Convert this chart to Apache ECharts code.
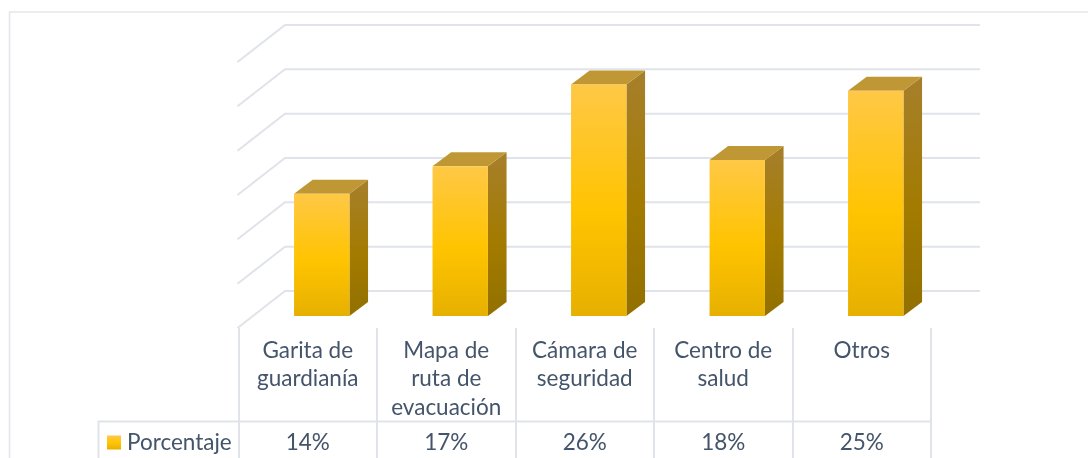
<!DOCTYPE html>
<html>
<head>
<meta charset="utf-8">
<style>html,body{margin:0;padding:0;background:#fff}#c{width:1088px;height:458px}</style>
<script src="https://cdn.jsdelivr.net/npm/echarts@6/dist/echarts.min.js"></script>
</head>
<body>
<div id="c"></div>
<script>
const categories = ["Garita de\nguardianía", "Mapa de\nruta de\nevacuación", "Cámara de\nseguridad", "Centro de\nsalud", "Otros"];
const seriesName = "Porcentaje";
const values = [13.8, 16.9, 26.1, 17.6, 25.4];
const yTicks = [0, 5, 10, 15, 20, 25, 30];

const LINE = "#e0e3e9", TEXT = "#44546a", FONT = "Lato", FS = 22.5;
const grad = (a, b, c) => new echarts.graphic.LinearGradient(0, 0, 0, 1, [
  {offset: 0, color: a}, {offset: 0.55, color: b}, {offset: 1, color: c}]);
const chart = echarts.init(document.getElementById("c"), null, {renderer: "canvas"});

function renderWall(params, api) {
  const cs = params.coordSys;
  const y = api.coord([0, api.value(1)])[1];
  return {type: "polyline", silent: true,
    shape: {points: [[cs.x - 1, y], [cs.x + 46.5, y - 37], [cs.x + cs.width + 49, y - 37]]},
    style: {stroke: LINE, lineWidth: 2, fill: null}};
}
function renderBar(params, api) {
  const band = api.size([1, 0])[0];
  const w = band * 0.4, ox = 14, oy = -12, dx = 18.6, dy = -14;
  const cx = api.coord([api.value(0), 0])[0];
  const y0 = api.coord([0, 0])[1] + oy;
  const y1 = api.coord([0, api.value(1)])[1] + oy;
  const l = cx + ox - w / 2, r = l + w;
  return {type: "group", children: [
    {type: "polygon", shape: {points: [[r, y1], [r + dx, y1 + dy], [r + dx, y0 + dy], [r, y0]]},
      style: {fill: grad("#a67f2c", "#a37b00", "#927000")}},
    {type: "polygon", shape: {points: [[l, y1], [l + dx, y1 + dy], [r + dx, y1 + dy], [r, y1]]},
      style: {fill: "#bf9734"}},
    {type: "rect", shape: {x: l, y: y1, width: w, height: y0 - y1},
      style: {fill: grad("#ffc846", "#ffc400", "#e6b000")}}
  ]};
}

chart.setOption({
  animation: false,
  backgroundColor: "#fff",
  grid: {left: 238.5, right: 157, top: 62, bottom: 130},
  legend: {
    left: 107, top: 431, padding: 0, itemWidth: 14, itemHeight: 14, itemGap: 0, selectedMode: false,
    data: [{name: seriesName, icon: "rect", itemStyle: {color: grad("#ffc846", "#ffc400", "#e6b000")}}],
    textStyle: {color: TEXT, fontFamily: FONT, fontSize: FS, padding: [0, 0, 0, 1]}
  },
  xAxis: [{
    type: "category", data: categories, position: "bottom",
    axisLine: {show: false},
    axisTick: {show: true, length: 130, lineStyle: {color: LINE, width: 2}},
    axisLabel: {interval: 0, margin: 8, color: TEXT, fontFamily: FONT, fontSize: FS, lineHeight: 28.5, verticalAlign: "top"}
  }, {
    type: "category", data: values.map(v => Math.round(v) + "%"), position: "bottom",
    axisLine: {show: false}, axisTick: {show: false},
    axisLabel: {interval: 0, margin: 103, color: TEXT, fontFamily: FONT, fontSize: FS, verticalAlign: "top"}
  }],
  yAxis: {type: "value", min: 0, max: 30, interval: 5, axisLabel: {show: false},
    axisLine: {show: false}, axisTick: {show: false}, splitLine: {show: false}},
  graphic: [
    {type: "polyline", shape: {points: [[9.5, 458], [9.5, 12], [1088, 12]]}, style: {stroke: "#e3e6ea", lineWidth: 1.6, fill: null}, silent: true},
    {type: "polyline", shape: {points: [[98.5, 458], [98.5, 421.5], [931, 421.5]]}, style: {stroke: LINE, lineWidth: 2, fill: null}, silent: true}
  ],
  series: [{
    name: "walls", type: "custom", xAxisIndex: 0, clip: false, z: 1,
    data: yTicks.map(t => [0, t]), renderItem: renderWall, silent: true
  }, {
    name: seriesName, type: "custom", xAxisIndex: 0, clip: false, z: 2,
    data: values.map((v, i) => [i, v]), renderItem: renderBar,
    itemStyle: {color: "#ffc000"}
  }]
});
</script>
</body>
</html>
